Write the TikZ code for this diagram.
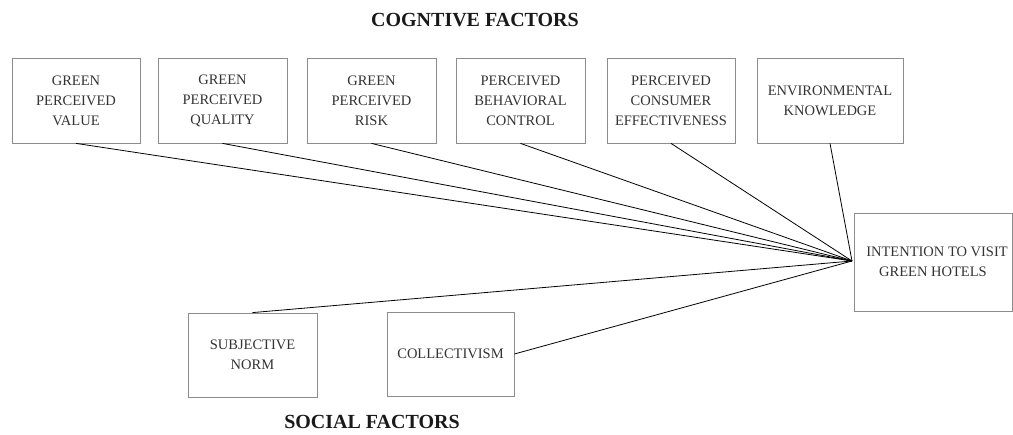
\documentclass[tikz,border=0pt]{standalone}
\usepackage{fontspec}
\setmainfont{Liberation Serif}
\begin{document}
\begin{tikzpicture}[x=1pt,y=-1pt,
  factor/.style={draw=black!45, line width=0.8pt, align=center, inner sep=0pt,
    font=\fontsize{14.5}{20}\selectfont, text=black!80},
  title/.style={font=\fontsize{20}{24}\selectfont\bfseries, text=black!90},
  link/.style={draw=black, line width=0.8pt}]
\useasboundingbox (0,0) rectangle (1013,435);
\node[title] (tc) at (475,20) {COGNTIVE FACTORS};
\node[title] (ts) at (372,422) {SOCIAL FACTORS};
\node[factor, minimum width=128, minimum height=85] (gpv) at (76,100.5) {GREEN\\PERCEIVED\\VALUE};
\node[factor, minimum width=129, minimum height=85] (gpq) at (222.5,100.5) {GREEN\\PERCEIVED\\QUALITY};
\node[factor, minimum width=129, minimum height=85] (gpr) at (371.5,100.5) {GREEN\\PERCEIVED\\RISK};
\node[factor, minimum width=129, minimum height=85] (pbc) at (520.5,100.5) {PERCEIVED\\BEHAVIORAL\\CONTROL};
\node[factor, minimum width=128, minimum height=85] (pce) at (671,100.5) {PERCEIVED\\CONSUMER\\EFFECTIVENESS};
\node[factor, minimum width=146, minimum height=85] (ek) at (830,100.5) {ENVIRONMENTAL\\KNOWLEDGE};
\node[factor, minimum width=158, minimum height=98] (iv) at (933,262) {\hspace*{8pt}INTENTION TO VISIT\\GREEN HOTELS};
\node[factor, minimum width=129, minimum height=84] (sn) at (252.5,355) {SUBJECTIVE\\NORM};
\node[factor, minimum width=127, minimum height=84] (col) at (450.5,354) {COLLECTIVISM};
\coordinate (hub) at (852,261);
\foreach \n in {gpv,gpq,gpr,pbc,pce,ek}
  \draw[link] (\n.south) -- (hub);
\draw[link] (sn.north) -- (hub);
\draw[link] (col.east) -- (hub);
\end{tikzpicture}
\end{document}
